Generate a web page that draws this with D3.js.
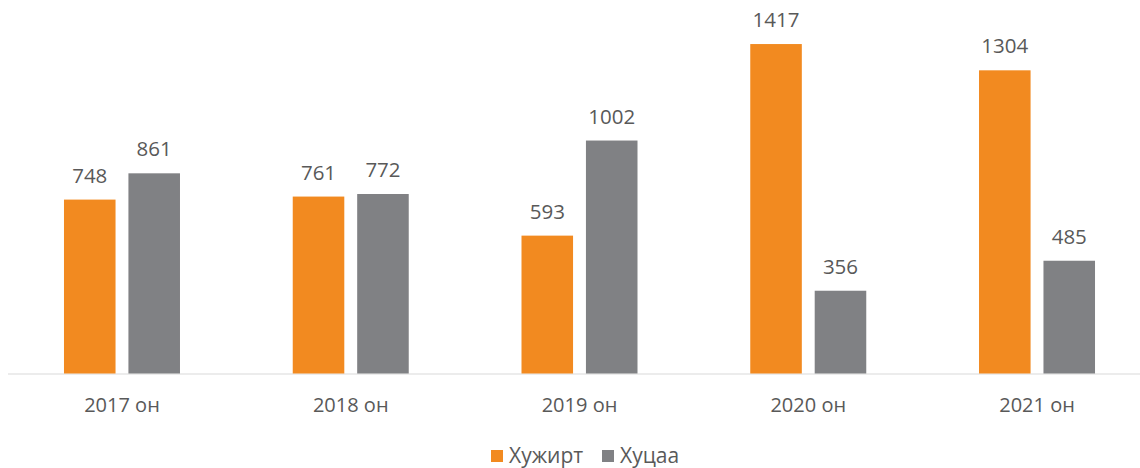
<!DOCTYPE html>
<html lang="mn">
<head>
    <meta charset="UTF-8">
    <title>Хужирт, Хуцаа</title>
    <script src="https://d3js.org/d3.v7.min.js"></script>
    <style>
        html, body {
            margin: 0;
            padding: 0;
            background: #fff;
        }
        svg text {
            font-family: "Open Sans", "Noto Sans", sans-serif;
            fill: #595959;
        }
    </style>
</head>
<body>
    <div id="chart"></div>
    <script>
        // Data
        const years = ["2017 он", "2018 он", "2019 он", "2020 он", "2021 он"];
        const seriesNames = ["Хужирт", "Хуцаа"];
        const khuzhirt = [748, 761, 593, 1417, 1304];
        const khutsaa = [861, 772, 1002, 356, 485];
        const colors = ["#F28A20", "#808184"];

        const width = 1140, height = 468;
        const baseline = 373.5;

        const svg = d3.select("#chart")
            .append("svg")
                .attr("width", width)
                .attr("height", height);

        // plot area runs a bit past the right edge (cropped in original)
        const x = d3.scaleBand()
            .domain(years)
            .range([7.6, 1151.4])
            .paddingInner(0)
            .paddingOuter(0);

        const x1 = d3.scaleBand()
            .domain(seriesNames)
            .range([x.bandwidth() / 2 - 58, x.bandwidth() / 2 + 58])
            .paddingInner(0.2);

        const y = d3.scaleLinear()
            .domain([0, 1600])
            .range([baseline, baseline - 1600 * 0.2325]);

        const rows = years.map((yr, i) => ({
            year: yr,
            values: [
                {name: seriesNames[0], value: khuzhirt[i], color: colors[0]},
                {name: seriesNames[1], value: khutsaa[i], color: colors[1]}
            ]
        }));

        // axis line
        svg.append("line")
            .attr("x1", 8)
            .attr("x2", width)
            .attr("y1", baseline + 0.5)
            .attr("y2", baseline + 0.5)
            .attr("stroke", "#D9D9D9")
            .attr("stroke-width", 1.2);

        const groups = svg.selectAll(".group")
            .data(rows)
            .enter()
            .append("g")
                .attr("class", "group")
                .attr("transform", d => `translate(${x(d.year)},0)`);

        groups.selectAll("rect")
            .data(d => d.values)
            .enter()
            .append("rect")
                .attr("x", d => x1(d.name))
                .attr("width", x1.bandwidth())
                .attr("y", d => y(d.value))
                .attr("height", d => y(0) - y(d.value))
                .attr("fill", d => d.color);

        groups.selectAll(".value-label")
            .data(d => d.values)
            .enter()
            .append("text")
                .attr("class", "value-label")
                .attr("x", d => x1(d.name) + x1.bandwidth() / 2)
                .attr("y", d => y(d.value) - 17)
                .attr("text-anchor", "middle")
                .style("font-size", "20.5px")
                .text(d => d.value);

        // category labels
        svg.selectAll(".cat-label")
            .data(years)
            .enter()
            .append("text")
                .attr("class", "cat-label")
                .attr("x", d => x(d) + x.bandwidth() / 2)
                .attr("y", 411.5)
                .attr("text-anchor", "middle")
                .style("font-size", "20px")
                .text(d => d);

        // legend
        const legendPos = [491, 602];
        const legend = svg.selectAll(".legend")
            .data(seriesNames)
            .enter()
            .append("g")
                .attr("class", "legend")
                .attr("transform", (d, i) => `translate(${legendPos[i]},0)`);

        legend.append("rect")
            .attr("x", 0)
            .attr("y", 450)
            .attr("width", 12)
            .attr("height", 12)
            .attr("fill", (d, i) => colors[i]);

        legend.append("text")
            .attr("x", 18)
            .attr("y", 463)
            .style("font-size", "21px")
            .text(d => d);
    </script>
</body>
</html>
